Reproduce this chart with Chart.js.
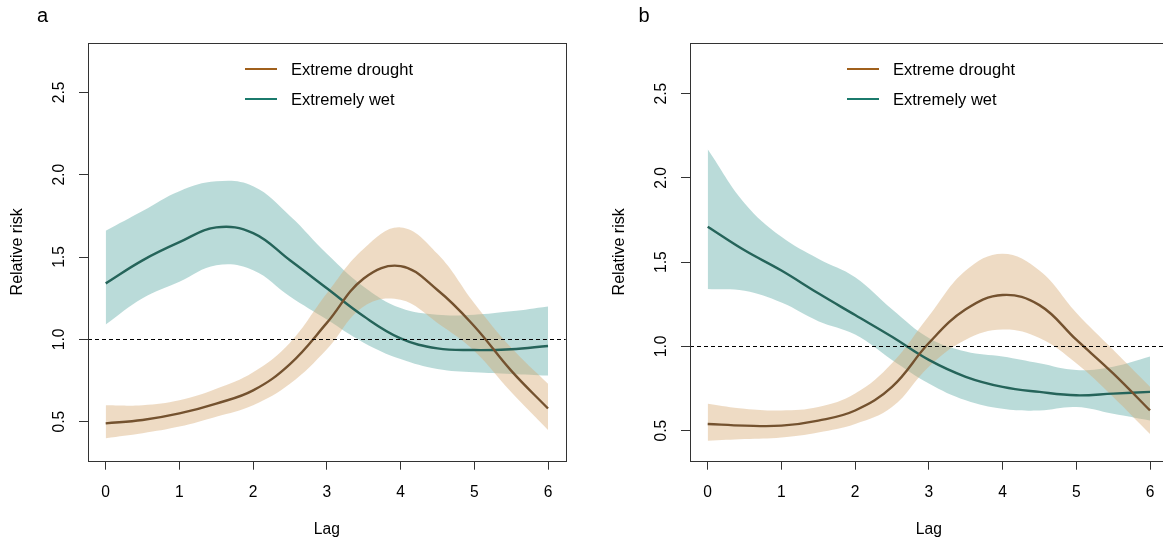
<!DOCTYPE html>
<html>
<head>
<meta charset="utf-8">
<script src="https://cdn.jsdelivr.net/npm/chart.js@4.4.1/dist/chart.umd.min.js"></script>
<style>
  html, body { margin: 0; padding: 0; background: #fff; overflow: hidden; }
  #page { position: relative; width: 1163px; height: 546px; overflow: hidden; font-family: "Liberation Sans", Arial, sans-serif; color: #000; }
  canvas { position: absolute; top: 0; }
  .letter { position: absolute; top: 4px; font-size: 20px; line-height: 22px; }
  .legend-line { position: absolute; width: 32px; height: 2.5px; }
  .legend-text { position: absolute; font-size: 16.5px; line-height: 20px; white-space: nowrap; }
</style>
</head>
<body>
<div id="page">
  <canvas id="chart-a" width="580" height="546" style="left:0px"></canvas>
  <canvas id="chart-b" width="580" height="546" style="left:602px"></canvas>
</div>
<script>
/* Data */
let lags = [0, 0.5, 1, 1.5, 2, 2.5, 3, 3.5, 4, 4.5, 5, 5.5, 6]
let xTicks = [0, 1, 2, 3, 4, 5, 6]
let yTicks = [0.5, 1.0, 1.5, 2.0, 2.5]
let seriesNames = ['Extreme drought', 'Extremely wet']
let refValue = 1.0

// panel a
let droughtA     = [0.49, 0.51, 0.55, 0.61, 0.69, 0.85, 1.10, 1.37, 1.445, 1.30, 1.08, 0.81, 0.58]
let droughtALow  = [0.40, 0.43, 0.47, 0.53, 0.60, 0.73, 0.94, 1.20, 1.24, 1.10, 0.93, 0.68, 0.45]
let droughtAHigh = [0.60, 0.60, 0.63, 0.70, 0.80, 0.98, 1.28, 1.55, 1.68, 1.52, 1.22, 0.95, 0.73]
let wetA         = [1.34, 1.48, 1.59, 1.68, 1.645, 1.48, 1.31, 1.14, 1.006, 0.945, 0.935, 0.94, 0.96]
let wetALow      = [1.09, 1.25, 1.35, 1.45, 1.42, 1.26, 1.12, 0.98, 0.88, 0.82, 0.80, 0.79, 0.78]
let wetAHigh     = [1.66, 1.78, 1.90, 1.96, 1.93, 1.75, 1.52, 1.32, 1.19, 1.15, 1.15, 1.17, 1.20]

// panel b
let droughtB     = [0.54, 0.53, 0.53, 0.56, 0.62, 0.76, 1.02, 1.22, 1.305, 1.245, 1.04, 0.84, 0.62]
let droughtBLow  = [0.44, 0.45, 0.46, 0.49, 0.54, 0.64, 0.88, 1.04, 1.10, 1.05, 0.90, 0.70, 0.48]
let droughtBHigh = [0.66, 0.63, 0.62, 0.64, 0.72, 0.90, 1.18, 1.45, 1.55, 1.45, 1.20, 0.98, 0.76]
let wetB         = [1.71, 1.57, 1.45, 1.315, 1.186, 1.057, 0.92, 0.82, 0.76, 0.73, 0.71, 0.72, 0.73]
let wetBLow      = [1.34, 1.33, 1.26, 1.15, 1.07, 0.92, 0.78, 0.68, 0.63, 0.62, 0.64, 0.60, 0.56]
let wetBHigh     = [2.17, 1.85, 1.65, 1.52, 1.41, 1.22, 1.05, 0.97, 0.94, 0.90, 0.86, 0.88, 0.94]

/* Colours */
let lineColors = ['#74522f', '#25645a']
let legendColors = ['#a0601c', '#1b7a6c']
let bandColors = ['rgba(215, 170, 115, 0.42)', 'rgba(110, 180, 175, 0.48)']

let fontFamily = '"Liberation Sans", Arial, sans-serif'

function toPoints(values) {
    return values.map(function(v, i) { return { x: lags[i], y: v } })
}

function meanLine(label, values, color) {
    return { label: label, data: toPoints(values), borderColor: color, borderWidth: 2.4,
             pointRadius: 0, tension: 0.4, fill: false, order: 0 }
}

function bandEdge(label, values, fill, color) {
    return { label: label, data: toPoints(values), borderColor: 'transparent', borderWidth: 0,
             pointRadius: 0, tension: 0.4, fill: fill, backgroundColor: color, order: 1 }
}

// box round the plot area and dashed line at RR = 1
let plotBox = {
    id: 'plotBox',
    afterDatasetsDraw(chart) {
        let ctx = chart.ctx
        let a = chart.chartArea
        let yRef = Math.round(chart.scales.y.getPixelForValue(refValue)) + 0.5
        ctx.save()
        ctx.strokeStyle = '#000'
        ctx.lineWidth = 1
        ctx.setLineDash([4, 3])
        ctx.beginPath()
        ctx.moveTo(a.left, yRef)
        ctx.lineTo(a.right, yRef)
        ctx.stroke()
        ctx.setLineDash([])
        ctx.strokeStyle = '#333'
        let l = Math.round(a.left) + 0.5, t = Math.round(a.top) + 0.5
        let r = Math.round(a.right) + 0.5, b = Math.round(a.bottom) + 0.5
        ctx.strokeRect(l, t, r - l, b - t)
        ctx.restore()
    }
}

function makePanel(canvasId, yMin, drought, droughtLow, droughtHigh, wet, wetLow, wetHigh) {
    let ctx = document.querySelector(canvasId).getContext('2d')
    let tickFont = { family: fontFamily, size: 15.6 }
    return new Chart(ctx, {
        type: 'line',
        data: {
            datasets: [
                meanLine(seriesNames[0], drought, lineColors[0]),
                meanLine(seriesNames[1], wet, lineColors[1]),
                bandEdge('drought upper', droughtHigh, '+1', bandColors[0]),
                bandEdge('drought lower', droughtLow, false, bandColors[0]),
                bandEdge('wet upper', wetHigh, '+1', bandColors[1]),
                bandEdge('wet lower', wetLow, false, bandColors[1])
            ]
        },
        options: {
            responsive: false,
            animation: false,
            layout: { padding: { top: 43, right: 14.3, left: 0, bottom: 0 } },
            plugins: { legend: { display: false }, tooltip: { enabled: false } },
            scales: {
                x: {
                    type: 'linear', min: -0.24, max: 6.24,
                    afterBuildTicks: function(s) { s.ticks = xTicks.map(function(v) { return { value: v } }) },
                    afterFit: function(s) { s.height = 85.3 },
                    grid: { display: true, drawOnChartArea: false, drawTicks: true, tickLength: 9, tickColor: '#333' },
                    border: { display: false },
                    ticks: { color: '#000', font: tickFont, padding: 14, maxRotation: 0, autoSkip: false,
                             callback: function(v) { return String(v) } },
                    title: { display: true, text: 'Lag', color: '#000', font: tickFont, padding: { top: 0, bottom: 7 } }
                },
                y: {
                    type: 'linear', min: yMin, max: 2.80,
                    afterBuildTicks: function(s) { s.ticks = yTicks.map(function(v) { return { value: v } }) },
                    afterFit: function(s) { s.width = 88 },
                    grid: { display: true, drawOnChartArea: false, drawTicks: true, tickLength: 9, tickColor: '#333' },
                    border: { display: false },
                    ticks: { color: '#000', font: tickFont, padding: 8, minRotation: 90, maxRotation: 90,
                             crossAlign: 'center', autoSkip: false,
                             callback: function(v) { return v.toFixed(1) } },
                    title: { display: true, text: 'Relative risk', color: '#000',
                             font: { family: fontFamily, size: 16 }, padding: { top: 8, bottom: 0 } }
                }
            }
        },
        plugins: [plotBox]
    })
}

makePanel('#chart-a', 0.263, droughtA, droughtALow, droughtAHigh, wetA, wetALow, wetAHigh)
makePanel('#chart-b', 0.322, droughtB, droughtBLow, droughtBHigh, wetB, wetBLow, wetBHigh)

/* Panel letters and legends as html text */
let page = document.querySelector('#page')
let panelLetters = ['a', 'b']
let panelOffsets = [0, 602]
let legendRows = [69, 99]

panelLetters.forEach(function(letter, p) {
    let off = panelOffsets[p]
    let el = document.createElement('div')
    el.className = 'letter'
    el.style.left = (off + 37 + (p == 1 ? -0.5 : 0)) + 'px'
    el.textContent = letter
    page.appendChild(el)

    seriesNames.forEach(function(name, i) {
        let line = document.createElement('div')
        line.className = 'legend-line'
        line.style.left = (off + 245) + 'px'
        line.style.top = (legendRows[i] - 1.25) + 'px'
        line.style.background = legendColors[i]
        page.appendChild(line)

        let text = document.createElement('div')
        text.className = 'legend-text'
        text.style.left = (off + 291) + 'px'
        text.style.top = (legendRows[i] - 10) + 'px'
        text.textContent = name
        page.appendChild(text)
    })
})
</script>
</body>
</html>
